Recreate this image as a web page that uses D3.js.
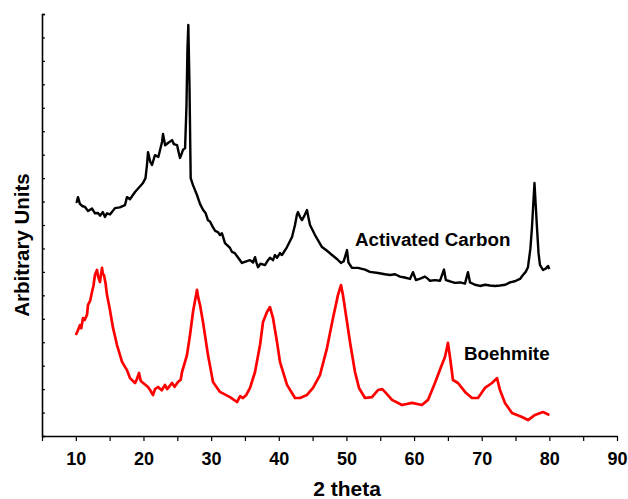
<!DOCTYPE html>
<html>
<head>
<meta charset="utf-8">
<script src="https://cdn.jsdelivr.net/npm/d3@7"></script>
<style>
  html, body { margin: 0; padding: 0; background: #fff; }
  svg { display: block; font-family: "Liberation Sans", Arial, sans-serif; }
</style>
</head>
<body>
<div id="chart"></div>
<script>
// XRD patterns (2 theta, arbitrary intensity)
const carbonTheta = [10.0,10.13,10.32,10.6,11.0,11.36,11.8,12.4,12.83,13.28,13.6,14.0,14.31,14.6,15.05,15.79,16.5,17.27,17.56,18.0,
  18.75,19.34,19.93,20.3,20.52,20.67,21.0,21.26,21.7,22.2,22.74,22.89,23.2,23.63,24.22,24.5,24.96,25.2,25.4,25.6,
  25.84,26.15,26.35,26.5,26.63,26.8,26.98,27.32,27.91,28.36,28.8,29.2,29.54,29.83,30.28,30.6,31.0,31.31,31.6,32.05,
  32.79,33.09,33.5,34.0,34.56,35.2,35.75,36.2,36.49,36.7,36.93,37.3,37.96,38.3,38.7,39.15,39.44,39.74,40.18,40.48,
  41.22,41.96,42.4,42.69,42.84,43.14,43.43,43.8,44.17,44.4,44.62,45.36,46.39,47.13,47.87,48.6,49.2,49.6,50.09,50.3,
  50.82,51.71,52.75,53.48,54.67,55.7,56.44,57.2,57.92,58.6,59.4,59.84,60.28,61.0,61.61,62.06,62.35,63.09,63.83,64.42,
  64.7,65.3,66.05,66.8,67.53,67.97,68.27,69.0,69.74,70.5,71.22,72.0,72.7,73.5,74.18,74.9,75.66,76.1,76.5,76.84,
  77.2,77.43,77.8,78.17,78.4,78.61,79.06,79.5,79.8,80.0];
const carbonCounts = [1000,998,1019,990,980,977,960,970,950,951,940,955,934,950,945,972,975,985,1019,1010,
  1041,1060,1079,1100,1156,1211,1170,1156,1198,1190,1254,1288,1240,1250,1262,1245,1241,1210,1186,1200,
  1220,1228,1400,1650,1753,1500,1100,1070,1028,990,965,950,920,915,890,875,870,857,865,823,
  802,785,780,760,738,745,750,740,763,740,720,735,729,745,760,750,772,760,780,772,
  806,849,900,945,955,935,921,940,964,930,900,857,806,790,772,755,738,745,793,740,
  717,717,710,700,695,690,687,690,680,676,670,699,665,672,680,670,662,665,662,710,
  665,660,653,655,650,699,655,645,640,645,642,640,642,645,655,660,670,687,700,720,
  800,890,1079,890,780,730,708,715,725,712];

const boehmiteTheta = [10.0,10.3,10.62,10.8,11.06,11.3,11.65,11.8,12.1,12.39,12.6,12.83,13.13,13.3,13.57,13.87,14.0,14.16,14.4,14.61,
  15.05,15.5,16.09,16.83,17.56,18.01,18.75,19.0,19.34,19.6,19.78,20.67,21.0,21.41,21.7,22.15,22.7,23.18,23.5,24.22,
  24.6,25.1,25.5,25.7,26.43,26.88,27.32,27.91,28.1,28.36,28.8,29.54,30.28,31.31,32.79,33.83,34.3,34.71,35.2,35.75,
  36.49,37.23,37.67,38.26,38.7,39.15,39.74,40.18,41.22,42.4,43.14,44.17,45.06,46.09,47.13,48.02,48.75,49.2,49.49,50.09,
  50.53,51.27,51.86,52.75,53.78,54.67,55.3,55.7,56.74,58.22,59.69,61.17,62.06,63.09,63.98,64.57,65.01,65.31,65.75,66.5,
  67.53,68.56,69.45,70.48,71.52,72.26,72.7,73.44,74.48,75.95,76.84,77.88,79.06,80.0];
const boehmiteCounts = [431,450,473,460,503,495,516,559,575,614,640,687,708,680,657,717,690,687,650,601,
  537,461,388,316,281,247,226,240,269,235,230,209,195,175,200,209,195,218,200,226,
  210,230,240,273,345,431,529,623,590,559,486,345,230,188,166,145,170,162,175,205,
  273,388,486,529,550,503,401,316,218,162,162,175,205,260,375,503,601,644,601,486,
  401,273,205,162,166,196,200,188,154,132,141,132,154,226,294,337,397,337,239,226,
  188,162,162,205,226,247,196,141,98,81,68,90,102,90];

const xTicks = [5,10,15,20,25,30,35,40,45,50,55,60,65,70,75,80,85,90];
const xLabels = [10,20,30,40,50,60,70,80,90];

const W = 628, H = 499;
const x = d3.scaleLinear().domain([5, 90]).range([42, 617]);
const y = d3.scaleLinear().domain([0, 1800]).range([436, 14]);

const svg = d3.select("#chart").append("svg").attr("width", W).attr("height", H);

// y axis: ticks point inward, no labels
const yAxis = svg.append("g").attr("transform", `translate(${x(5)},0)`)
  .call(d3.axisLeft(y).ticks(18).tickSize(-3).tickFormat(""));
yAxis.select(".domain").attr("stroke-width", 1.6);
yAxis.selectAll(".tick line").attr("stroke-width", 1.2);

// x axis
const xAxis = svg.append("g").attr("transform", `translate(0,${y(0)})`)
  .call(d3.axisBottom(x).tickValues(xTicks).tickSize(5).tickSizeOuter(0)
    .tickFormat(d => xLabels.includes(d) ? d : ""));
xAxis.select(".domain").attr("stroke-width", 1.6);
xAxis.selectAll(".tick line").attr("stroke-width", 1.2);
xAxis.selectAll(".tick text").attr("dy", 0).attr("y", 29)
  .style("font-size", "18px").style("font-weight", "bold").attr("fill", "#000");

const line = d3.line().x(d => x(d[0])).y(d => y(d[1]));

svg.append("path").datum(d3.zip(boehmiteTheta, boehmiteCounts))
  .attr("d", line).attr("fill", "none").attr("stroke", "#ff0000")
  .attr("stroke-width", 2.7).attr("stroke-linejoin", "round");

svg.append("path").datum(d3.zip(carbonTheta, carbonCounts))
  .attr("d", line).attr("fill", "none").attr("stroke", "#000")
  .attr("stroke-width", 2.4).attr("stroke-linejoin", "round");

// curve labels
svg.append("text").attr("x", 355).attr("y", 246).text("Activated Carbon")
  .style("font-size", "18.8px").style("font-weight", "bold");
svg.append("text").attr("x", 464).attr("y", 360).text("Boehmite")
  .style("font-size", "18.8px").style("font-weight", "bold");

// axis titles
svg.append("text").attr("x", 347).attr("y", 496).attr("text-anchor", "middle")
  .text("2 theta").style("font-size", "21px").style("font-weight", "bold");
svg.append("text").attr("transform", "translate(29,245) rotate(-90)").attr("text-anchor", "middle")
  .text("Arbitrary Units").style("font-size", "20.5px").style("font-weight", "bold");
</script>
</body>
</html>
